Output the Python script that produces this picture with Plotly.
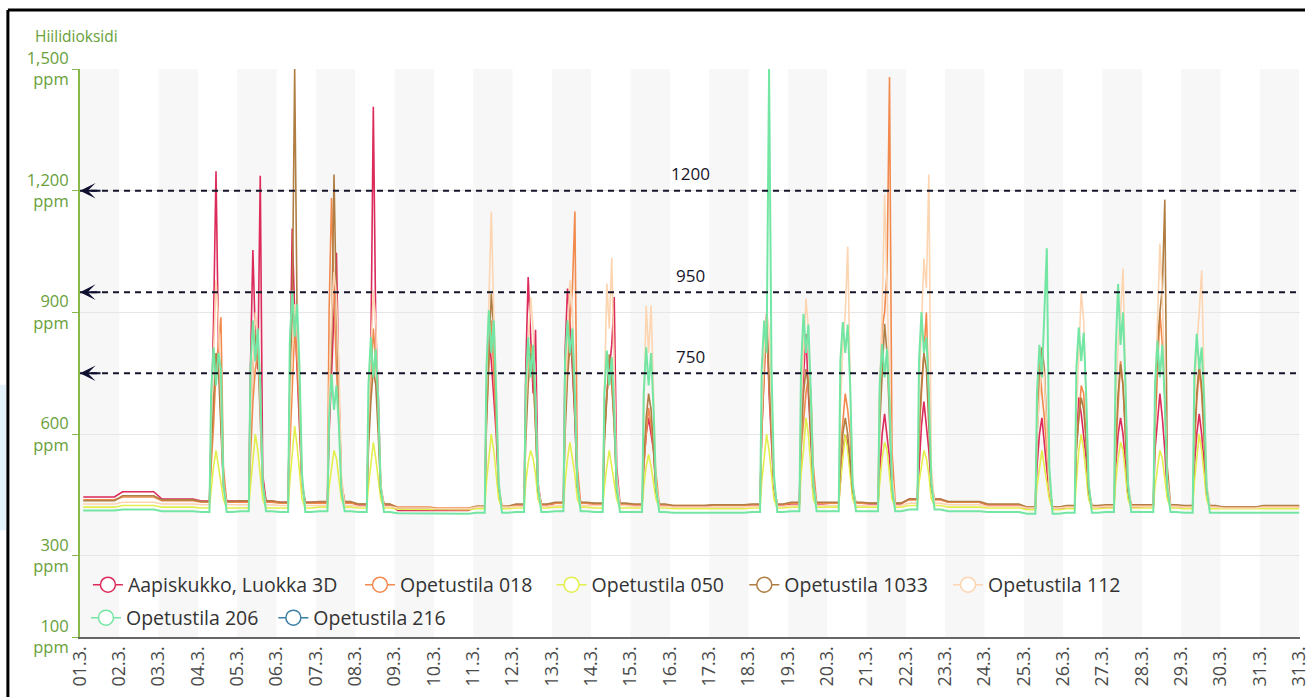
import plotly.graph_objects as go
import pandas as pd

# ---------------- data ----------------
START = pd.Timestamp("2024-03-01")
TICK_LABELS = ["01.3.", "02.3.", "03.3.", "04.3.", "05.3.", "06.3.", "07.3.", "08.3.",
               "09.3.", "10.3.", "11.3.", "12.3.", "13.3.", "14.3.", "15.3.", "16.3.",
               "17.3.", "18.3.", "19.3.", "20.3.", "21.3.", "22.3.", "23.3.", "24.3.",
               "25.3.", "26.3.", "27.3.", "28.3.", "29.3.", "30.3.", "31.3.", "31.3."]

SCHOOL_DAYS = [3, 4, 5, 6, 7, 10, 11, 12, 13, 14, 17, 18, 19, 20, 21, 24, 25, 26, 27, 28]
PROFILE_HOURS = [8, 9.5, 11, 12.5, 14, 15.5]   # sample hours of the school-day readings
BASE_HOURS_BEFORE = [2, 7]
BASE_HOURS_AFTER = [17.5, 21]

NAMES = ["Aapiskukko, Luokka 3D", "Opetustila 018", "Opetustila 050", "Opetustila 1033",
         "Opetustila 112", "Opetustila 206", "Opetustila 216"]
COLORS = ["#dc2a5a", "#f28a4e", "#e2ef4c", "#b07d42", "#fdd5b1", "#74e6a4", "#3b7fa6"]

# nightly baseline per day (ppm), 32 values (day 0 .. day 31)
BASE_AAPIS = [445, 458, 440, 435, 435, 432, 432, 425, 412, 412, 420, 425, 430, 428, 425, 422,
              425, 425, 428, 430, 428, 440, 432, 425, 415, 418, 420, 422, 420, 418, 420, 420]
BASE_018 = [438, 445, 436, 432, 432, 430, 430, 428, 420, 418, 422, 426, 430, 428, 426, 424,
            424, 426, 430, 430, 430, 438, 432, 426, 420, 422, 424, 424, 422, 420, 422, 422]
BASE_050 = [420, 424, 420, 418, 418, 418, 420, 418, 415, 414, 416, 418, 420, 418, 418, 416,
            416, 418, 420, 420, 420, 424, 420, 418, 414, 416, 418, 418, 416, 415, 416, 416]
BASE_1033 = [436, 448, 438, 434, 436, 432, 434, 428, 418, 416, 422, 428, 432, 430, 428, 424,
             426, 428, 432, 432, 430, 440, 434, 428, 420, 424, 426, 426, 424, 420, 424, 424]
BASE_112 = [428, 432, 428, 426, 426, 424, 424, 422, 418, 416, 420, 422, 424, 424, 422, 420,
            420, 422, 424, 424, 424, 430, 426, 422, 418, 420, 422, 422, 420, 418, 420, 420]
BASE_206 = [412, 414, 410, 408, 410, 408, 410, 408, 405, 404, 406, 408, 410, 408, 408, 406,
            406, 408, 410, 410, 410, 414, 410, 408, 404, 406, 408, 408, 406, 405, 406, 406]

# school-day readings at PROFILE_HOURS, one row per entry of SCHOOL_DAYS
DAYS_AAPIS = [
    [600, 880, 1248, 820, 640, 480], [760, 1054, 840, 760, 1237, 500],
    [700, 1107, 900, 760, 600, 470], [600, 760, 880, 1047, 700, 480],
    [620, 800, 1407, 860, 700, 470], [700, 839, 780, 700, 600, 460],
    [760, 987, 820, 700, 857, 480], [800, 959, 880, 760, 640, 470],
    [620, 700, 760, 820, 938, 520], [520, 600, 640, 600, 560, 460],
    [600, 760, 896, 700, 580, 460], [640, 760, 847, 700, 600, 470],
    [480, 560, 600, 580, 520, 450], [500, 600, 650, 600, 540, 450],
    [520, 620, 680, 620, 560, 460], [520, 600, 640, 580, 520, 450],
    [600, 690, 650, 600, 540, 450], [520, 600, 640, 600, 520, 450],
    [560, 640, 700, 640, 560, 450], [520, 600, 650, 600, 520, 450],
]
DAYS_018 = [
    [520, 620, 760, 820, 888, 520], [540, 680, 760, 800, 700, 480],
    [560, 700, 860, 780, 650, 470], [900, 1182, 940, 760, 640, 470],
    [600, 720, 860, 780, 650, 470], [620, 780, 880, 760, 620, 460],
    [640, 780, 820, 760, 620, 460], [640, 760, 880, 960, 1149, 520],
    [580, 700, 760, 720, 620, 470], [520, 600, 665, 620, 560, 491],
    [600, 760, 888, 720, 600, 470], [560, 640, 700, 740, 706, 520],
    [560, 640, 700, 660, 600, 470], [700, 860, 900, 1000, 1480, 560],
    [600, 700, 780, 900, 700, 480], [600, 781, 700, 640, 560, 470],
    [560, 650, 720, 700, 600, 470], [560, 660, 780, 720, 600, 470],
    [600, 760, 900, 820, 700, 480], [560, 680, 760, 700, 600, 470],
]
DAYS_050 = [
    [460, 520, 560, 520, 480, 440], [470, 540, 600, 560, 500, 440],
    [480, 560, 620, 570, 500, 440], [470, 520, 560, 540, 490, 440],
    [470, 520, 580, 540, 490, 440], [480, 540, 600, 560, 500, 440],
    [480, 530, 560, 540, 500, 440], [480, 540, 580, 540, 500, 440],
    [470, 520, 560, 520, 480, 440], [470, 520, 550, 520, 480, 440],
    [480, 540, 600, 560, 500, 440], [500, 560, 640, 600, 520, 440],
    [480, 540, 600, 560, 500, 440], [480, 540, 580, 560, 500, 440],
    [480, 520, 560, 540, 500, 440], [470, 520, 560, 520, 480, 440],
    [480, 560, 600, 560, 500, 440], [480, 540, 580, 560, 500, 440],
    [470, 520, 560, 540, 490, 440], [480, 540, 600, 560, 500, 440],
]
DAYS_1033 = [
    [560, 700, 800, 760, 620, 470], [600, 760, 850, 800, 640, 470],
    [700, 900, 1500, 880, 640, 480], [640, 820, 1240, 900, 700, 480],
    [560, 680, 760, 720, 600, 460], [620, 800, 946, 860, 640, 470],
    [580, 720, 800, 760, 620, 460], [600, 740, 820, 780, 640, 470],
    [580, 700, 797, 740, 620, 460], [540, 640, 700, 660, 560, 460],
    [620, 780, 888, 760, 600, 470], [580, 700, 760, 720, 600, 470],
    [520, 600, 640, 600, 533, 460], [620, 760, 872, 800, 640, 470],
    [600, 720, 800, 760, 620, 470], [600, 720, 814, 760, 620, 470],
    [560, 640, 690, 660, 580, 460], [580, 700, 772, 720, 600, 460],
    [640, 820, 900, 960, 1178, 520], [580, 700, 770, 720, 600, 460],
]
DAYS_112 = [
    [620, 800, 979, 880, 700, 480], [620, 780, 900, 840, 680, 470],
    [640, 800, 920, 860, 700, 480], [700, 900, 1000, 940, 760, 500],
    [640, 800, 954, 880, 700, 480], [700, 900, 1149, 900, 720, 480],
    [640, 820, 938, 860, 700, 480], [660, 840, 979, 900, 720, 480],
    [700, 971, 860, 1035, 760, 500], [640, 917, 800, 917, 700, 480],
    [640, 800, 900, 860, 680, 480], [660, 820, 934, 860, 680, 480],
    [660, 820, 900, 1062, 720, 480], [700, 900, 1190, 960, 760, 500],
    [700, 880, 1033, 960, 1240, 520], [600, 700, 781, 740, 620, 470],
    [640, 800, 950, 880, 700, 480], [660, 820, 900, 1008, 720, 480],
    [680, 860, 1070, 940, 740, 490], [660, 820, 900, 1004, 720, 480],
]
DAYS_206 = [
    [700, 814, 720, 800, 760, 480], [760, 880, 780, 860, 720, 480],
    [820, 954, 840, 920, 760, 500], [640, 748, 660, 720, 620, 460],
    [720, 839, 740, 810, 680, 470], [760, 905, 800, 880, 700, 480],
    [720, 839, 740, 820, 680, 470], [780, 880, 800, 860, 700, 480],
    [700, 806, 720, 790, 660, 470], [700, 814, 720, 800, 660, 470],
    [760, 880, 800, 1500, 760, 500], [760, 896, 800, 870, 700, 480],
    [780, 876, 800, 870, 720, 480], [720, 822, 740, 810, 680, 470],
    [780, 901, 800, 839, 700, 480], [700, 820, 740, 880, 1058, 520],
    [760, 863, 780, 850, 700, 480], [800, 970, 820, 900, 720, 480],
    [720, 830, 740, 820, 680, 470], [740, 847, 760, 814, 680, 470],
]

SERIES_BASE = [BASE_AAPIS, BASE_018, BASE_050, BASE_1033, BASE_112, BASE_206, None]
SERIES_DAYS = [DAYS_AAPIS, DAYS_018, DAYS_050, DAYS_1033, DAYS_112, DAYS_206, None]

REF_LEVELS = [1200, 950, 750]
Y_TICKS = [100, 300, 600, 900, 1200, 1500]
Y_TICK_TEXT = ["100<br>ppm", "300<br>ppm", "600<br>ppm", "900<br>ppm", "1,200<br>ppm", "1,500<br>ppm"]

# legend entry placement (paper coords): left edge x, row centre y
LEGEND_POS = [(0.0065, 0.0915), (0.2295, 0.0915), (0.3865, 0.0915), (0.5445, 0.0915),
              (0.7115, 0.0915), (0.0049, 0.0335), (0.1585, 0.0335)]


def build(base, days):
    xs, ys = [], []
    lookup = dict(zip(SCHOOL_DAYS, days))
    for d in range(31):
        b = base[d]
        for h in BASE_HOURS_BEFORE:
            xs.append(START + pd.Timedelta(hours=24 * d + h)); ys.append(b)
        if d in lookup:
            for h, v in zip(PROFILE_HOURS, lookup[d]):
                xs.append(START + pd.Timedelta(hours=24 * d + h)); ys.append(v)
        for h in BASE_HOURS_AFTER:
            xs.append(START + pd.Timedelta(hours=24 * d + h)); ys.append(b)
    xs.append(START + pd.Timedelta(days=31)); ys.append(base[31])
    return xs, ys


FONT = "Open Sans"
GREEN_TXT = "#68a03a"
fig = go.Figure()

legend_layouts = {}
for i, (name, color, base, days) in enumerate(zip(NAMES, COLORS, SERIES_BASE, SERIES_DAYS)):
    if base is not None:
        xs, ys = build(base, days)
        width = 2.0 if name == "Opetustila 206" else 1.6
        fig.add_trace(go.Scatter(x=xs, y=ys, mode="lines", name=name, showlegend=False,
                                 line=dict(color=color, width=width), hoverinfo="skip"))
    lg = "legend" if i == 0 else f"legend{i + 1}"
    fig.add_trace(go.Scatter(x=[None], y=[None], mode="lines+markers", name=name, legend=lg,
                             line=dict(color=color, width=1.5),
                             marker=dict(symbol="circle", size=15, color="white",
                                         line=dict(color=color, width=1.5))))
    lx, ly = LEGEND_POS[i]
    legend_layouts[lg] = dict(orientation="h", x=lx, y=ly, xanchor="left", yanchor="middle",
                              bgcolor="rgba(0,0,0,0)", itemclick=False, itemdoubleclick=False,
                              font=dict(family=FONT, size=19.5, color="#333"))

# alternating day stripes
shapes = []
for d in range(0, 31, 2):
    shapes.append(dict(type="rect", xref="x", yref="paper",
                       x0=START + pd.Timedelta(days=d), x1=START + pd.Timedelta(days=d + 1),
                       y0=0, y1=1, fillcolor="#f7f7f7", line=dict(width=0), layer="below"))
# reference lines
for lv in REF_LEVELS:
    shapes.append(dict(type="line", xref="paper", yref="y", x0=0, x1=1, y0=lv, y1=lv,
                       line=dict(color="#15152a", width=2, dash="6px,5px"), layer="above"))
# screenshot frame
shapes.append(dict(type="line", xref="paper", yref="paper", x0=-0.0591, x1=1.0041,
                   y0=1.1039, y1=1.1039, line=dict(color="black", width=3)))
shapes.append(dict(type="line", xref="paper", yref="paper", x0=-0.0591, x1=-0.0591,
                   y0=-0.11, y1=1.1039, line=dict(color="black", width=3)))
shapes.append(dict(type="rect", xref="paper", yref="paper", x0=-0.0705, x1=-0.0607,
                   y0=0.188, y1=0.444, fillcolor="#e4f2fb", line=dict(width=0)))

annotations = []
for lv in REF_LEVELS:
    annotations.append(dict(xref="paper", yref="y", x=0.5, y=lv, text=str(lv), showarrow=False,
                            yshift=17, font=dict(family=FONT, size=17, color="#15152a")))
    annotations.append(dict(xref="x", yref="y", x=START, y=lv, text="", showarrow=True,
                            ax=22, ay=0, arrowhead=3, arrowsize=1.3, arrowwidth=2,
                            arrowcolor="#101030", standoff=0))
annotations.append(dict(xref="paper", yref="paper", x=-0.0385, y=1.058, xanchor="left",
                        yanchor="middle", text="Hiilidioksidi", showarrow=False,
                        font=dict(family=FONT, size=15.5, color=GREEN_TXT)))

tick_dates = [START + pd.Timedelta(days=i) for i in range(len(TICK_LABELS))]

fig.update_layout(
    width=1309, height=697,
    margin=dict(l=80, r=9, t=69, b=60, pad=0),
    paper_bgcolor="white", plot_bgcolor="white",
    font=dict(family=FONT, color="#333"),
    shapes=shapes, annotations=annotations,
    showlegend=True,
    xaxis=dict(type="date", range=[START, START + pd.Timedelta(days=31, minutes=30)],
               tickmode="array", tickvals=tick_dates, ticktext=TICK_LABELS,
               tickangle=-90, tickfont=dict(family=FONT, size=18, color="#4a4a4a"),
               ticklabeloverflow="allow",
               showgrid=False, showline=True, linecolor="#666", linewidth=2,
               ticks="", zeroline=False, automargin=False),
    yaxis=dict(range=[100, 1500], tickmode="array", tickvals=Y_TICKS, ticktext=Y_TICK_TEXT,
               tickfont=dict(family=FONT, size=16.5, color=GREEN_TXT),
               ticklabeloverflow="allow",
               showgrid=True, gridcolor="#e6e6e6", gridwidth=1,
               showline=True, linecolor="#8ab84a", linewidth=2,
               ticks="outside", ticklen=6, tickcolor="#8ab84a", zeroline=False,
               automargin=False),
    **legend_layouts,
)

fig.write_html("out.html", config={"displayModeBar": False},
               post_script="document.body.style.margin='0';")
